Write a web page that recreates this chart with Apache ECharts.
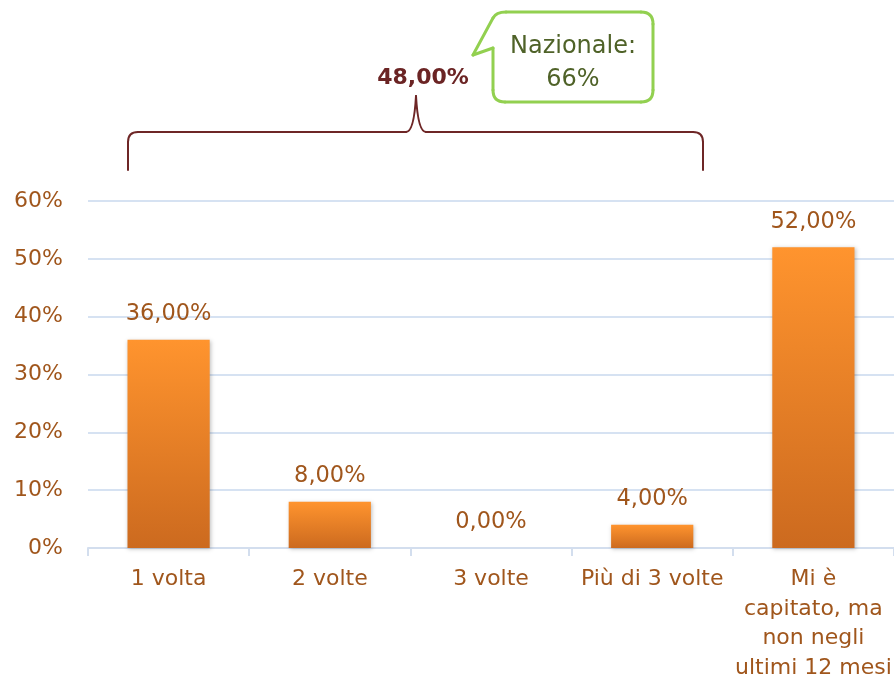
<!DOCTYPE html>
<html lang="it">
<head>
<meta charset="UTF-8">
<title>Frequenza</title>
<script src="https://cdn.jsdelivr.net/npm/echarts@6/dist/echarts.min.js"></script>
<style>
  html, body { margin: 0; padding: 0; background: #fff; }
  #chart { width: 894px; height: 679px; }
</style>
</head>
<body>
<div id="chart"></div>
<script>
// dati
var categorie = ['1 volta', '2 volte', '3 volte', 'Più di 3 volte', 'Mi è\ncapitato, ma\nnon negli\nultimi 12 mesi'];
var valori = [36, 8, 0, 4, 52];
var tickY = [0, 10, 20, 30, 40, 50, 60];
var totaleParentesi = '48,00%';
var nazionale = 'Nazionale:\n66%';

var FONT = 'DejaVu Sans';
var marrone = '#A0561C';
var rossoScuro = '#6E2626';
var verde = '#92D050';

var chart = echarts.init(document.getElementById('chart'));

function linea(x1, y1, x2, y2, col, w) {
    return { type: 'line', shape: { x1: x1, y1: y1, x2: x2, y2: y2 },
             style: { stroke: col, lineWidth: w, lineCap: 'round' } };
}
function curva(x1, y1, cx, cy, x2, y2, col, w) {
    return { type: 'bezierCurve', shape: { x1: x1, y1: y1, cpx1: cx, cpy1: cy, x2: x2, y2: y2 },
             style: { stroke: col, lineWidth: w, fill: null, lineCap: 'round' } };
}

var option = {
    animation: false,
    grid: { left: 88, right: 0, top: 201, bottom: 131, outerBoundsMode: 'none', containLabel: false },
    xAxis: {
        type: 'category',
        data: categorie,
        axisLine: { lineStyle: { color: '#D3DEEE', width: 2 } },
        axisTick: { show: true, length: 8, lineStyle: { color: '#D3DEEE', width: 2 } },
        axisLabel: {
            color: marrone, fontFamily: FONT, fontSize: 22,
            lineHeight: 29.5, margin: 17, interval: 0
        }
    },
    yAxis: {
        type: 'value',
        min: tickY[0],
        max: tickY[tickY.length - 1],
        interval: 10,
        axisLine: { show: false },
        axisTick: { show: false },
        axisLabel: {
            color: marrone, fontFamily: FONT, fontSize: 22, margin: 25,
            padding: [5, 0, 0, 0],
            formatter: function (v) { return v + '%'; }
        },
        splitLine: { lineStyle: { color: '#D6E2F2', width: 2 } }
    },
    series: [{
        type: 'bar',
        data: valori,
        barWidth: '51%',
        itemStyle: {
            color: {
                type: 'linear', x: 0, y: 0, x2: 0, y2: 1,
                colorStops: [
                    { offset: 0, color: '#FF942E' },
                    { offset: 1, color: '#CC6A1F' }
                ]
            },
            shadowColor: 'rgba(0,0,0,0.25)',
            shadowBlur: 4,
            shadowOffsetX: 1,
            shadowOffsetY: 1
        },
        label: {
            show: true,
            position: 'top',
            distance: 14,
            color: marrone,
            fontFamily: FONT,
            fontSize: 22.5,
            formatter: function (p) { return p.value.toFixed(2).replace('.', ',') + '%'; }
        }
    }],
    graphic: [
        // parentesi graffa
        linea(128, 170, 128, 142, rossoScuro, 2),
        curva(128, 142, 128, 132, 138, 132, rossoScuro, 2),
        linea(138, 132, 406, 132, rossoScuro, 2),
        curva(406, 132, 414, 132, 416, 96, rossoScuro, 2),
        curva(416, 96, 418, 132, 426, 132, rossoScuro, 2),
        linea(426, 132, 693, 132, rossoScuro, 2),
        curva(693, 132, 703, 132, 703, 142, rossoScuro, 2),
        linea(703, 142, 703, 170, rossoScuro, 2),
        {
            type: 'text',
            x: 423, y: 78,
            style: {
                text: totaleParentesi, fill: '#6B2424',
                fontFamily: FONT, fontSize: 22, fontWeight: 'bold',
                align: 'center', verticalAlign: 'middle'
            }
        },
        // fumetto nazionale
        linea(493, 48, 493, 90, verde, 3),
        curva(493, 90, 493, 102, 505, 102, verde, 3),
        linea(505, 102, 641, 102, verde, 3),
        curva(641, 102, 653, 102, 653, 90, verde, 3),
        linea(653, 90, 653, 24, verde, 3),
        curva(653, 24, 653, 12, 641, 12, verde, 3),
        linea(641, 12, 506, 12, verde, 3),
        curva(506, 12, 496, 12, 493, 18, verde, 3),
        linea(493, 18, 473, 55, verde, 3),
        linea(473, 55, 493, 48, verde, 3),
        {
            type: 'text',
            x: 573, y: 63,
            style: {
                text: nazionale, fill: '#4F6228',
                fontFamily: FONT, fontSize: 24, lineHeight: 33,
                align: 'center', verticalAlign: 'middle'
            }
        }
    ]
};

chart.setOption(option);
</script>
</body>
</html>
